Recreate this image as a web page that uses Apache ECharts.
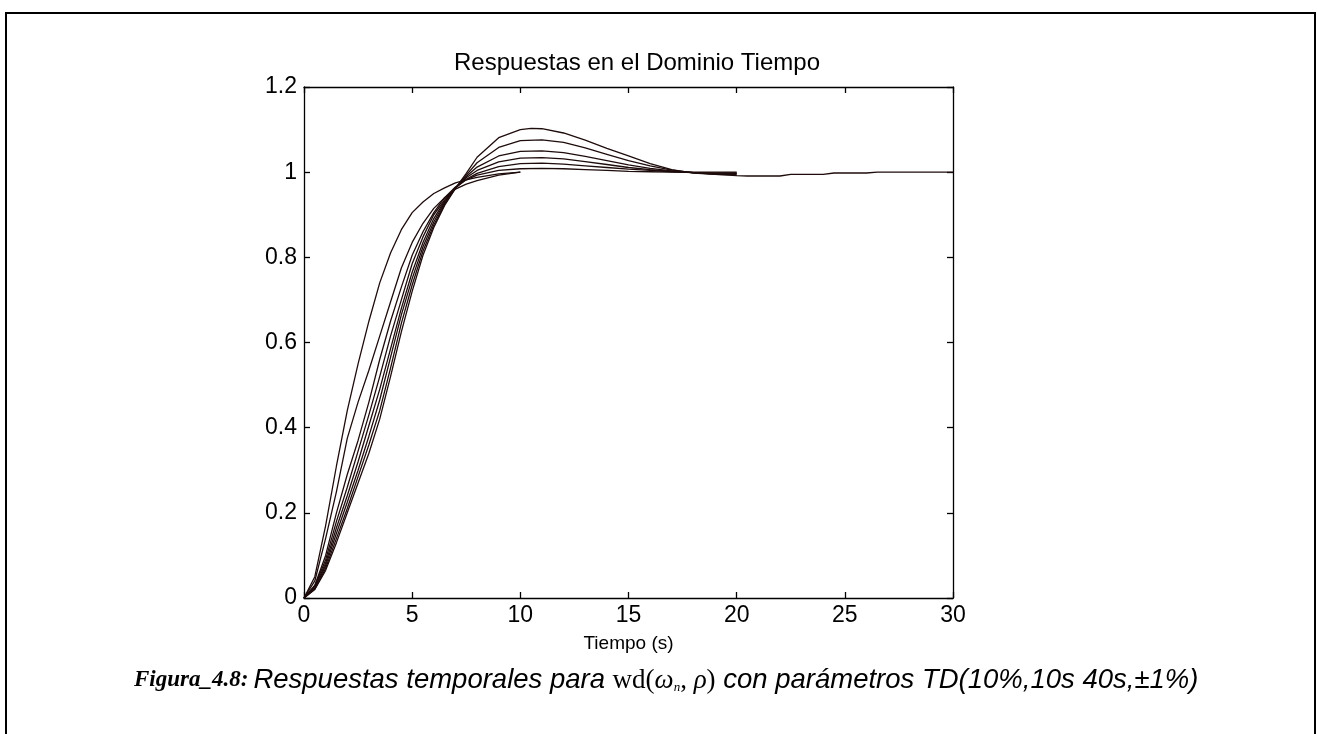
<!DOCTYPE html>
<html>
<head>
<meta charset="utf-8">
<script src="https://cdn.jsdelivr.net/npm/echarts@6/dist/echarts.min.js"></script>
<style>
html,body{margin:0;padding:0;background:#fff;}
#chart{width:1317px;height:734px;}
</style>
</head>
<body>
<div id="chart"></div>
<script>
// ---- data ----
const chartTitle = 'Respuestas en el Dominio Tiempo';
const xName = 'Tiempo (s)';
const xTicks = [0, 5, 10, 15, 20, 25, 30];
const yTicks = [0, 0.2, 0.4, 0.6, 0.8, 1, 1.2];

// time samples (s)
const tShort = [0,0.5,1,1.5,2,2.5,3,3.5,4,4.5,5,5.5,6,6.5,7,7.5,8,9,10];
const tMid   = [0,0.5,1,1.5,2,2.5,3,3.5,4,4.5,5,5.5,6,6.5,7,7.5,8,9,10,11,12,13,14,15,16,17,18,19,20];
const tLong  = [0,0.5,1,1.5,2,2.5,3,3.5,4,4.5,5,5.5,6,6.5,7,7.5,8,9,10,10.5,11,12,13,14,15,16,17,18,19,20,20.5,22,22.5,24,24.5,26,26.5,30];

// responses
const respA = [0,0.05,0.17,0.31,0.44,0.55,0.65,0.74,0.81,0.865,0.905,0.93,0.95,0.963,0.975,0.982,0.988,0.996,1.0];
const respB = [0,0.04,0.14,0.25,0.375,0.46,0.535,0.615,0.695,0.775,0.835,0.88,0.915,0.94,0.96,0.972,0.98,0.993,1.0];
const respC1 = [0,0.03,0.1,0.2,0.29,0.37,0.46,0.56,0.65,0.73,0.805,0.86,0.905,0.94,0.965,0.982,0.993,1.004,1.008,1.009,1.008,1.006,1.004,1.002,1.001,1.0,1.0,1.0,1.0];
const respC2 = [0,0.028,0.09,0.18,0.26,0.345,0.43,0.52,0.615,0.7,0.785,0.848,0.9,0.935,0.963,0.983,0.997,1.013,1.02,1.021,1.019,1.015,1.011,1.007,1.004,1.001,0.999,0.998,0.998];
const respC3 = [0,0.025,0.082,0.165,0.24,0.32,0.405,0.49,0.585,0.68,0.765,0.835,0.891,0.932,0.963,0.987,1.004,1.024,1.033,1.034,1.031,1.025,1.018,1.011,1.006,1.002,0.999,0.997,0.997];
const respC4 = [0,0.023,0.076,0.152,0.225,0.3,0.38,0.465,0.565,0.665,0.75,0.825,0.883,0.929,0.963,0.99,1.012,1.038,1.049,1.05,1.046,1.037,1.027,1.017,1.009,1.003,0.999,0.996,0.996];
const respC5 = [0,0.021,0.07,0.14,0.21,0.285,0.36,0.44,0.54,0.645,0.735,0.815,0.876,0.925,0.962,0.993,1.022,1.058,1.074,1.076,1.07,1.057,1.042,1.027,1.015,1.005,0.999,0.995,0.994];
const respC6 = [0,0.02,0.065,0.13,0.2,0.27,0.34,0.42,0.52,0.625,0.72,0.805,0.87,0.922,0.962,0.997,1.035,1.081,1.1,1.103,1.102,1.092,1.075,1.056,1.038,1.02,1.006,0.998,0.995,0.992,0.991,0.991,0.995,0.995,0.998,0.998,1.0,1.0];

const curves = [
  [tShort, respA], [tShort, respB],
  [tMid, respC1], [tMid, respC2], [tMid, respC3], [tMid, respC4], [tMid, respC5],
  [tLong, respC6]
];

const lineColor = '#1e0b0b';

const chart = echarts.init(document.getElementById('chart'), null, {renderer: 'canvas'});

const grid = {left: 304, top: 87, width: 649, height: 511};
const axisFont = {fontFamily: 'Liberation Sans, Arial, sans-serif', fontSize: 23, color: '#000'};

const series = curves.map(([t, v]) => ({
  type: 'line',
  showSymbol: false,
  data: t.map((x, i) => [x, v[i]]),
  lineStyle: {color: lineColor, width: 1.3},
  silent: true
}));

const serif = 'Liberation Serif, Times New Roman, serif';
const sans = 'Liberation Sans, Arial, sans-serif';

chart.setOption({
  animation: false,
  backgroundColor: '#fff',
  title: [{
    text: chartTitle,
    left: 632, top: 46, textAlign: 'center',
    textStyle: {fontFamily: sans, fontSize: 24, fontWeight: 'normal', color: '#000'}
  }, {
    text: '{b|Figura_4.8:} {i|Respuestas temporales para }{m|wd(}{w|ω}{s|n}{m|, }{w|ρ}{m|)}{i| con parámetros TD(10%,10s 40s,±1%)}',
    left: 129, top: 662,
    textStyle: {
      fontWeight: 'normal',
      rich: {
        b: {fontFamily: serif, fontStyle: 'italic', fontWeight: 'bold', fontSize: 23, color: '#000'},
        i: {fontFamily: sans, fontStyle: 'italic', fontWeight: 'normal', fontSize: 27.5, color: '#000'},
        m: {fontFamily: serif, fontWeight: 'normal', fontSize: 27, color: '#000'},
        w: {fontFamily: serif, fontStyle: 'italic', fontWeight: 'normal', fontSize: 27, color: '#000'},
        s: {fontFamily: serif, fontStyle: 'italic', fontWeight: 'normal', fontSize: 13, color: '#000', padding: [14, 0, 0, 0]}
      }
    }
  }],
  grid: grid,
  xAxis: [{
    type: 'value', min: 0, max: 30, interval: 5,
    name: xName, nameLocation: 'middle', nameGap: 36,
    nameTextStyle: {fontFamily: sans, fontSize: 19, color: '#000'},
    axisLine: {show: true, onZero: false, lineStyle: {color: '#000', width: 1.3}},
    axisTick: {show: true, inside: true, length: 6, lineStyle: {color: '#000', width: 1.3}},
    axisLabel: Object.assign({margin: 6}, axisFont),
    splitLine: {show: false}
  }, {
    type: 'value', min: 0, max: 30, interval: 5, position: 'top',
    axisLine: {show: true, onZero: false, lineStyle: {color: '#000', width: 1.3}},
    axisTick: {show: true, inside: true, length: 6, lineStyle: {color: '#000', width: 1.3}},
    axisLabel: {show: false}, splitLine: {show: false}
  }],
  yAxis: [{
    type: 'value', min: 0, max: 1.2, interval: 0.2,
    axisLine: {show: true, onZero: false, lineStyle: {color: '#000', width: 1.3}},
    axisTick: {show: true, inside: true, length: 6, lineStyle: {color: '#000', width: 1.3}},
    axisLabel: Object.assign({margin: 7, formatter: v => String(+v.toFixed(1))}, axisFont),
    splitLine: {show: false}
  }, {
    type: 'value', min: 0, max: 1.2, interval: 0.2, position: 'right',
    axisLine: {show: true, onZero: false, lineStyle: {color: '#000', width: 1.3}},
    axisTick: {show: true, inside: true, length: 6, lineStyle: {color: '#000', width: 1.3}},
    axisLabel: {show: false}, splitLine: {show: false}
  }],
  graphic: [{
    type: 'rect', silent: true, z: -1,
    shape: {x: 6, y: 13, width: 1309, height: 740},
    style: {fill: 'none', stroke: '#000', lineWidth: 2}
  }],
  series: series
});
</script>
</body>
</html>
